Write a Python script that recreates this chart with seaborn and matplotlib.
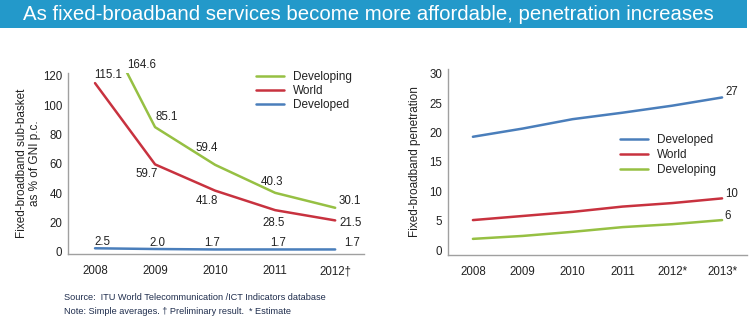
import matplotlib
matplotlib.use("Agg")
import matplotlib.pyplot as plt
import matplotlib.transforms as mtransforms
from matplotlib import font_manager
import seaborn as sns
import pandas as pd

# ---------------- data ----------------
years_left = ["2008", "2009", "2010", "2011", "2012\u2020"]
afford_developing = [164.6, 85.1, 59.4, 40.3, 30.1]
afford_world = [115.1, 59.7, 41.8, 28.5, 21.5]
afford_developed = [2.5, 2.0, 1.7, 1.7, 1.7]

years_right = ["2008", "2009", "2010", "2011", "2012*", "2013*"]
pen_developed = [19.3, 20.7, 22.3, 23.4, 24.6, 26.0]
pen_world = [5.1, 5.8, 6.5, 7.4, 8.0, 8.8]
pen_developing = [1.9, 2.4, 3.1, 3.9, 4.4, 5.1]
pen_end_labels = ["27", "10", "6"]

title = "As fixed-broadband services become more affordable, penetration increases"
source = "Source:  ITU World Telecommunication /ICT Indicators database"
note = "Note: Simple averages. \u2020 Preliminary result.  * Estimate"

# ---------------- style ----------------
sns.set_theme(style="white")
available = {f.name for f in font_manager.fontManager.ttflist}
base = "Liberation Sans" if "Liberation Sans" in available else "DejaVu Sans"
narrow = "Liberation Sans Narrow" if "Liberation Sans Narrow" in available else base
plt.rcParams["font.family"] = [base, "DejaVu Sans"]

C_GREEN = "#96C043"
C_RED = "#C8323F"
C_BLUE = "#4A7EBB"
C_TEXT = "#222222"
C_SPINE = "#A0A0A0"
palette = {"Developing": C_GREEN, "World": C_RED, "Developed": C_BLUE}

fig = plt.figure(figsize=(7.51, 3.33), dpi=100)
W, H = 751, 333

# banner
fig.patches.append(plt.Rectangle((0, 1 - 28 / H), 747 / W, 28 / H, transform=fig.transFigure,
                                 facecolor="#2399CA", edgecolor="none", zorder=0))
fig.text(23 / W, 1 - 14.5 / H, title, color="white", fontsize=14.7, va="center", ha="left",
         family=[narrow, "DejaVu Sans"])

def make_axes(l, t, r, b):
    return fig.add_axes([l / W, 1 - b / H, (r - l) / W, (b - t) / H])

axL = make_axes(68, 73, 364, 254)
axR = make_axes(448, 69, 747, 255)

# ---------------- left chart ----------------
dfL = pd.DataFrame({
    "x": list(range(len(years_left))) * 3,
    "value": afford_developing + afford_world + afford_developed,
    "series": ["Developing"] * 5 + ["World"] * 5 + ["Developed"] * 5,
})
sns.lineplot(data=dfL, x="x", y="value", hue="series",
             hue_order=["Developing", "World", "Developed"], palette=palette,
             linewidth=1.8, ax=axL)
axL.set_xlim(-0.45, 4.48)
axL.set_ylim(-1.4, 122)
axL.set_xticks(range(len(years_left)))
axL.set_xticklabels(years_left)
axL.set_yticks([0, 20, 40, 60, 80, 100, 120])
axL.set_xlabel("")
axL.set_ylabel("Fixed-broadband sub-basket\nas % of GNI p.c.", fontsize=8.5, color=C_TEXT,
               linespacing=1.1)
axL.yaxis.label.set_va("center")
axL.yaxis.set_label_coords(-0.132, 0.5)

def label(ax, txt, x, y, dx, dy):
    ax.annotate(txt, (x, y), xytext=(dx, dy), textcoords="offset pixels", ha="center",
                va="center", fontsize=8.3, color=C_TEXT, annotation_clip=False)

offs_dev = [(47, -54.5), (12, 10), (-8, 17), (-3, 11), (15, 7)]
offs_world = [(13, 8), (-8, -10), (-8, -10), (-2, -13), (15, -3)]
offs_dvd = [(7, 6), (2, 6), (-3, 6), (3, 6), (17, 6)]
for i in range(5):
    label(axL, f"{afford_developing[i]:.1f}", i, afford_developing[i], *offs_dev[i])
    label(axL, f"{afford_world[i]:.1f}", i, afford_world[i], *offs_world[i])
    label(axL, f"{afford_developed[i]:.1f}", i, afford_developed[i], *offs_dvd[i])

# ---------------- right chart ----------------
n = len(years_right)
dfR = pd.DataFrame({
    "x": list(range(n)) * 3,
    "value": pen_developed + pen_world + pen_developing,
    "series": ["Developed"] * n + ["World"] * n + ["Developing"] * n,
})
sns.lineplot(data=dfR, x="x", y="value", hue="series",
             hue_order=["Developed", "World", "Developing"], palette=palette,
             linewidth=1.8, ax=axR)
axR.set_xlim(-0.5, 5.5)
axR.set_ylim(-0.85, 30.85)
axR.set_xticks(range(n))
axR.set_xticklabels(years_right)
axR.set_yticks([0, 5, 10, 15, 20, 25, 30])
axR.set_xlabel("")
axR.set_ylabel("Fixed-broadband penetration", fontsize=8.5, color=C_TEXT)
axR.yaxis.label.set_va("center")
axR.yaxis.set_label_coords(-0.11, 0.5)
shift = mtransforms.ScaledTranslation(-8 / 100, 0, fig.dpi_scale_trans)
for t in axR.get_xticklabels():
    t.set_transform(t.get_transform() + shift)

ends = [pen_developed[-1], pen_world[-1], pen_developing[-1]]
end_offs = [(10, 5), (10, 4), (6, 4)]
for txt, v, (dx, dy) in zip(pen_end_labels, ends, end_offs):
    label(axR, txt, n - 1, v, dx, dy)

# ---------------- common styling ----------------
for ax in (axL, axR):
    sns.despine(ax=ax)
    for s in ("left", "bottom"):
        ax.spines[s].set_color(C_SPINE)
        ax.spines[s].set_linewidth(1.0)
    ax.tick_params(axis="both", length=0, labelsize=8.3, colors=C_TEXT)
    ax.tick_params(axis="x", pad=8)
    ax.tick_params(axis="y", pad=4)
    ax.set_facecolor("white")

axL.legend(loc="upper left", bbox_to_anchor=(0.635, 1.013), frameon=False, fontsize=8.5,
           handlelength=2.4, handletextpad=0.75, labelspacing=0.2, borderpad=0,
           borderaxespad=0)
axR.legend(loc="upper left", bbox_to_anchor=(0.575, 0.651), frameon=False, fontsize=8.5,
           handlelength=2.4, handletextpad=0.75, labelspacing=0.25, borderpad=0,
           borderaxespad=0)
for ax in (axL, axR):
    for t in ax.get_legend().get_texts():
        t.set_color(C_TEXT)
    for l in ax.get_legend().get_lines():
        l.set_linewidth(1.8)

# footer
fig.text(64 / W, 1 - 298 / H, source, fontsize=6.6, color="#1F2D4D", va="center", ha="left",
         family=[narrow, "DejaVu Sans"])
fig.text(64 / W, 1 - 312 / H, note, fontsize=6.6, color="#1F2D4D", va="center", ha="left",
         family=[narrow, "DejaVu Sans"])

fig.savefig("out.png", dpi=100, facecolor="white")
